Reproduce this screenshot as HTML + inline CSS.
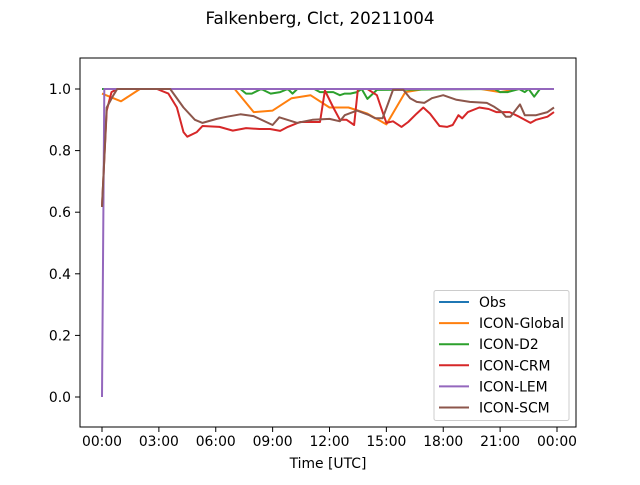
<!DOCTYPE html>
<html><head><meta charset="utf-8"><style>
body{margin:0;background:#fff}
svg text{font-family:"DejaVu Sans","Liberation Sans",sans-serif;fill:#000}
</style></head><body>
<svg id="c" width="640" height="480" xmlns="http://www.w3.org/2000/svg">
<rect width="640" height="480" fill="#fff"/>
<text x="320" y="24" font-size="16.7" text-anchor="middle">Falkenberg, Clct, 20211004</text>
<g id="plot"></g>
<rect x="80" y="58" width="496" height="369" fill="none" stroke="#000" stroke-width="1"/>
<g id="ticks"></g>
<text x="328" y="468" font-size="13.9" text-anchor="middle">Time [UTC]</text>
<g id="legend"></g>
</svg>
<script>
const xTickHours=[0,3,6,9,12,15,18,21,24];
const xTickLabels=["00:00","03:00","06:00","09:00","12:00","15:00","18:00","21:00","00:00"];
const yTicks=[0.0,0.2,0.4,0.6,0.8,1.0];
const yTickLabels=["0.0","0.2","0.4","0.6","0.8","1.0"];
const seriesNames=["Obs","ICON-Global","ICON-D2","ICON-CRM","ICON-LEM","ICON-SCM"];
const seriesColors=["#1f77b4","#ff7f0e","#2ca02c","#d62728","#9467bd","#8c564b"];
const obsHours=[0,23.84];
const obsVals=[1.0,1.0];
const globalHours=[0,1,2,3,4,5,6,7,8,9,10,11,12,13,14,15,16,17,18,19,20,21,22,23,23.84];
const globalVals=[0.985,0.96,1.0,1.0,1.0,1.0,1.0,1.0,0.925,0.93,0.97,0.98,0.94,0.94,0.92,0.885,0.99,1.0,1.0,1.0,1.0,0.99,1.0,1.0,1.0];
const d2Hours=[0,7.3,7.6,7.9,8.4,8.9,9.4,9.8,10.05,10.3,11.2,11.5,11.8,12.2,12.55,12.8,13.1,13.45,13.7,14.0,14.5,20.7,21.0,21.4,22.0,22.3,22.5,22.8,23.1,23.84];
const d2Vals=[1.0,1.0,0.985,0.985,1.0,0.985,0.99,1.0,0.985,1.0,1.0,0.99,0.99,0.99,0.98,0.985,0.985,0.99,1.0,0.968,0.997,1.0,0.99,0.99,1.0,0.99,1.0,0.975,1.0,1.0];
const crmHours=[0,0.25,0.5,0.8,2.9,3.5,3.95,4.3,4.5,5.0,5.3,6.2,6.9,7.6,8.3,8.86,9.4,9.8,10.45,11.1,11.5,11.76,12.2,12.55,12.9,13.3,13.5,14.0,14.5,14.8,15.0,15.35,15.8,16.15,16.6,16.95,17.3,17.8,18.2,18.5,18.8,19.0,19.3,19.9,20.4,20.8,21.5,22.0,22.6,22.9,23.5,23.84];
const crmVals=[0.62,0.93,0.99,1.0,1.0,0.985,0.94,0.86,0.845,0.86,0.88,0.877,0.865,0.873,0.87,0.87,0.864,0.877,0.893,0.893,0.893,0.995,0.94,0.90,0.90,0.883,1.0,1.0,0.98,0.925,0.89,0.895,0.877,0.893,0.92,0.94,0.92,0.88,0.877,0.883,0.915,0.905,0.925,0.94,0.935,0.925,0.925,0.91,0.89,0.90,0.91,0.925];
const lemHours=[0,0.12,23.84];
const lemVals=[0.0,1.0,1.0];
const scmHours=[0,0.25,0.6,0.8,3.6,4.3,4.9,5.3,6.05,6.6,7.3,8.0,9.0,9.35,10.3,11.1,12.0,12.55,12.8,13.45,14.1,14.4,14.8,15.1,15.35,15.9,16.25,16.6,17.0,17.4,18.0,18.7,19.4,20.3,20.7,21.1,21.3,21.55,22.05,22.3,22.9,23.5,23.84];
const scmVals=[0.617,0.94,0.98,1.0,1.0,0.94,0.90,0.89,0.903,0.91,0.918,0.912,0.883,0.908,0.89,0.90,0.903,0.895,0.915,0.93,0.915,0.905,0.905,0.955,0.997,0.997,0.97,0.958,0.955,0.97,0.98,0.965,0.958,0.955,0.942,0.925,0.91,0.91,0.95,0.915,0.915,0.925,0.94];

const NS="http://www.w3.org/2000/svg";
function xS(h){return 102+h*18.958;}
function yS(v){return 397-v*308;}
const plot=document.getElementById('plot');
const allH=[obsHours,globalHours,d2Hours,crmHours,lemHours,scmHours];
const allV=[obsVals,globalVals,d2Vals,crmVals,lemVals,scmVals];
[0,1,2,3,4,5].forEach(i=>{
  const p=document.createElementNS(NS,'polyline');
  p.setAttribute('points',allH[i].map((h,k)=>xS(h).toFixed(1)+','+yS(allV[i][k]).toFixed(1)).join(' '));
  p.setAttribute('fill','none');p.setAttribute('stroke',seriesColors[i]);p.setAttribute('stroke-width','2');
  p.setAttribute('stroke-linejoin','round');
  
  
  plot.appendChild(p);
});
const t=document.getElementById('ticks');
xTickHours.forEach((h,i)=>{
  const l=document.createElementNS(NS,'line');
  l.setAttribute('x1',xS(h));l.setAttribute('x2',xS(h));l.setAttribute('y1',427);l.setAttribute('y2',432);l.setAttribute('stroke','#000');l.setAttribute('stroke-width','1');
  
  
  t.appendChild(l);
  const tx=document.createElementNS(NS,'text');
  tx.setAttribute('x',xS(h));tx.setAttribute('y',446);tx.setAttribute('font-size','13.9');tx.setAttribute('text-anchor','middle');
  tx.textContent=xTickLabels[i];
  
  
  t.appendChild(tx);
});
yTicks.forEach((v,i)=>{
  const l=document.createElementNS(NS,'line');
  l.setAttribute('x1',75);l.setAttribute('x2',80);l.setAttribute('y1',yS(v));l.setAttribute('y2',yS(v));l.setAttribute('stroke','#000');l.setAttribute('stroke-width','1');
  
  
  t.appendChild(l);
  const tx=document.createElementNS(NS,'text');
  tx.setAttribute('x',71);tx.setAttribute('y',yS(v)+5);tx.setAttribute('font-size','13.9');tx.setAttribute('text-anchor','end');
  tx.textContent=yTickLabels[i];
  
  
  t.appendChild(tx);
});
const lg=document.getElementById('legend');
const box=document.createElementNS(NS,'rect');
box.setAttribute('x',434);box.setAttribute('y',290.5);box.setAttribute('width',135);box.setAttribute('height',130);box.setAttribute('rx',2);
box.setAttribute('fill','#fff');box.setAttribute('fill-opacity','0.8');box.setAttribute('stroke','#ccc');box.setAttribute('stroke-width','1');


lg.appendChild(box);
seriesNames.forEach((n,i)=>{
  const y=302+i*21.1;
  const l=document.createElementNS(NS,'line');
  l.setAttribute('x1',439);l.setAttribute('x2',469);l.setAttribute('y1',y);l.setAttribute('y2',y);l.setAttribute('stroke',seriesColors[i]);l.setAttribute('stroke-width','2');
  
  
  lg.appendChild(l);
  const tx=document.createElementNS(NS,'text');
  tx.setAttribute('x',479);tx.setAttribute('y',y+5);tx.setAttribute('font-size','13.9');
  tx.textContent=n;
  
  
  lg.appendChild(tx);
});
</script>
</body></html>
